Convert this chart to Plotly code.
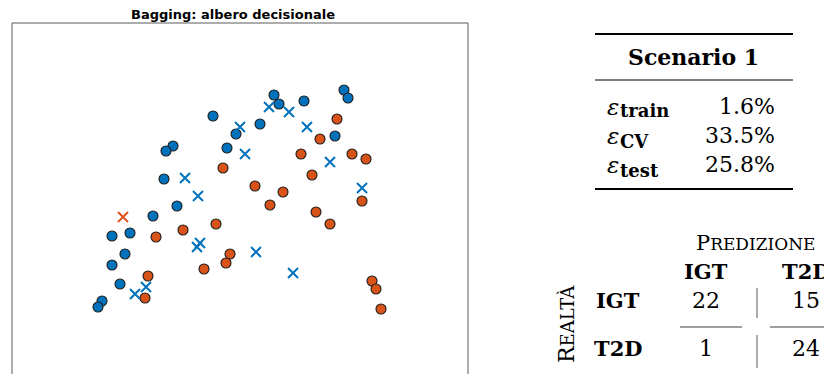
import plotly.graph_objects as go

OFF = 8  # page body margin in the browser
W, H = 832 - OFF, 374 - OFF

# ---- data (feature-space units) ----
igt_ok_x = [201, 224, 161, 154, 215, 152, 262, 267, 292, 332, 336, 248, 323, 165, 141, 100, 118, 113, 100, 108, 90, 86]
igt_ok_y = [258, 240, 228, 223, 226, 195, 279, 270, 273, 284, 276, 250, 238, 168, 158, 138, 141, 120, 109, 90, 73, 67]

t2d_ok_x = [211, 325, 308, 289, 340, 354, 300, 243, 271, 204, 171, 144, 218, 214, 192, 136, 133, 258, 304, 318, 350, 360, 364, 369]
t2d_ok_y = [206, 255, 235, 220, 220, 215, 199, 188, 182, 150, 144, 137, 120, 111, 105, 98, 76, 169, 162, 150, 173, 93, 85, 65]

igt_err_x = [173, 228, 257, 277, 295, 233, 318, 350, 186, 188, 185, 134, 123, 244, 281]
igt_err_y = [196, 247, 267, 262, 247, 220, 212, 186, 178, 131, 127, 87, 80, 122, 101]

t2d_err_x = [111]
t2d_err_y = [157]

title = "Bagging: albero decisionale"
scenario = "Scenario 1"
err_labels = ["train", "CV", "test"]
err_values = ["1.6%", "33.5%", "25.8%"]
classes = ["IGT", "T2D"]
conf = [[22, 15], [1, 24]]

BLUE = "#0072BD"
ORANGE = "#D95319"


def px(x):
    return (x - OFF) / W


def py(y):
    return 1 - (y - OFF) / H


fig = go.Figure()
fig.add_trace(go.Scatter(x=igt_ok_x, y=igt_ok_y, mode="markers",
                         marker=dict(symbol="circle", size=10, color=BLUE,
                                     line=dict(width=1.1, color="#1a1a1a"))))
fig.add_trace(go.Scatter(x=t2d_ok_x, y=t2d_ok_y, mode="markers",
                         marker=dict(symbol="circle", size=10, color=ORANGE,
                                     line=dict(width=1.1, color="#1a1a1a"))))
fig.add_trace(go.Scatter(x=igt_err_x, y=igt_err_y, mode="markers",
                         marker=dict(symbol="x-thin", size=10, color=BLUE,
                                     line=dict(width=2, color=BLUE))))
fig.add_trace(go.Scatter(x=t2d_err_x, y=t2d_err_y, mode="markers",
                         marker=dict(symbol="x-thin", size=10, color=ORANGE,
                                     line=dict(width=2, color="#E0531F"))))

ax = dict(showgrid=False, zeroline=False, showticklabels=False, ticks="",
          showline=False)
fig.update_xaxes(domain=[px(12), px(468)], range=[0, 456], **ax)
fig.update_yaxes(domain=[0, py(23)], range=[0, 351], **ax)

shapes = []
frame = dict(color="#5a5a5a", width=1)
shapes.append(dict(type="line", xref="x domain", yref="y domain", x0=0, x1=0, y0=-0.1, y1=1, line=frame))
shapes.append(dict(type="line", xref="x domain", yref="y domain", x0=0, x1=1, y0=1, y1=1, line=frame))
shapes.append(dict(type="line", xref="x domain", yref="y domain", x0=1, x1=1, y0=1, y1=-0.1, line=frame))

# table rules
shapes.append(dict(type="line", xref="paper", yref="paper", x0=px(595), x1=px(793), y0=py(34), y1=py(34), line=dict(color="black", width=2)))
shapes.append(dict(type="line", xref="paper", yref="paper", x0=px(595), x1=px(793), y0=py(80), y1=py(80), line=dict(color="black", width=1.2)))
shapes.append(dict(type="line", xref="paper", yref="paper", x0=px(595), x1=px(793), y0=py(189), y1=py(189), line=dict(color="black", width=2)))

# confusion matrix lines
g = dict(color="#808080", width=1.3)
shapes.append(dict(type="line", xref="paper", yref="paper", x0=px(757), x1=px(757), y0=py(288), y1=py(318), line=g))
shapes.append(dict(type="line", xref="paper", yref="paper", x0=px(757), x1=px(757), y0=py(335), y1=py(368), line=g))
shapes.append(dict(type="line", xref="paper", yref="paper", x0=px(680), x1=px(742), y0=py(327), y1=py(327), line=g))
shapes.append(dict(type="line", xref="paper", yref="paper", x0=px(770), x1=px(832), y0=py(327), y1=py(327), line=g))

ann = []


def A(text, x, y, size, xanchor="center", family="DejaVu Serif", angle=0):
    ann.append(dict(text=text, x=px(x), y=py(y), xref="paper", yref="paper",
                    showarrow=False, xanchor=xanchor, yanchor="middle",
                    textangle=angle,
                    font=dict(family=family, size=size, color="black")))


A("<b>" + title + "</b>", 233, 14, 13, family="DejaVu Sans")
A("<b>" + scenario + "</b>", 693, 57, 22)

row_y = [106, 135, 164]
sub_dy = [5, 6, 6]
for lab, val, yy, dy in zip(err_labels, err_values, row_y, sub_dy):
    A("<i>ε</i>", 605, yy + 1, 23, xanchor="left")
    A("<b>" + lab + "</b>", 618, yy + dy, 18, xanchor="left")
    A(val, 777, yy, 22, xanchor="right")

A('P<span style="font-size:17px">REDIZIONE</span>', 755, 243, 21)
A('R<span style="font-size:18px">EALTÀ</span>', 566, 324, 22, angle=-90)

col_x = [706, 806]
row_cy = [300, 348]
for cx, c in zip(col_x, classes):
    A("<b>" + c + "</b>", cx, 271, 21)
for ry, c in zip(row_cy, classes):
    A("<b>" + c + "</b>", 618, ry, 21)
for i in range(2):
    for j in range(2):
        A(str(conf[i][j]), col_x[j], row_cy[i], 22)

fig.update_layout(width=W, height=H, margin=dict(l=0, r=0, t=0, b=0),
                  paper_bgcolor="white", plot_bgcolor="white",
                  showlegend=False, shapes=shapes, annotations=ann)

fig.write_html("out.html")
